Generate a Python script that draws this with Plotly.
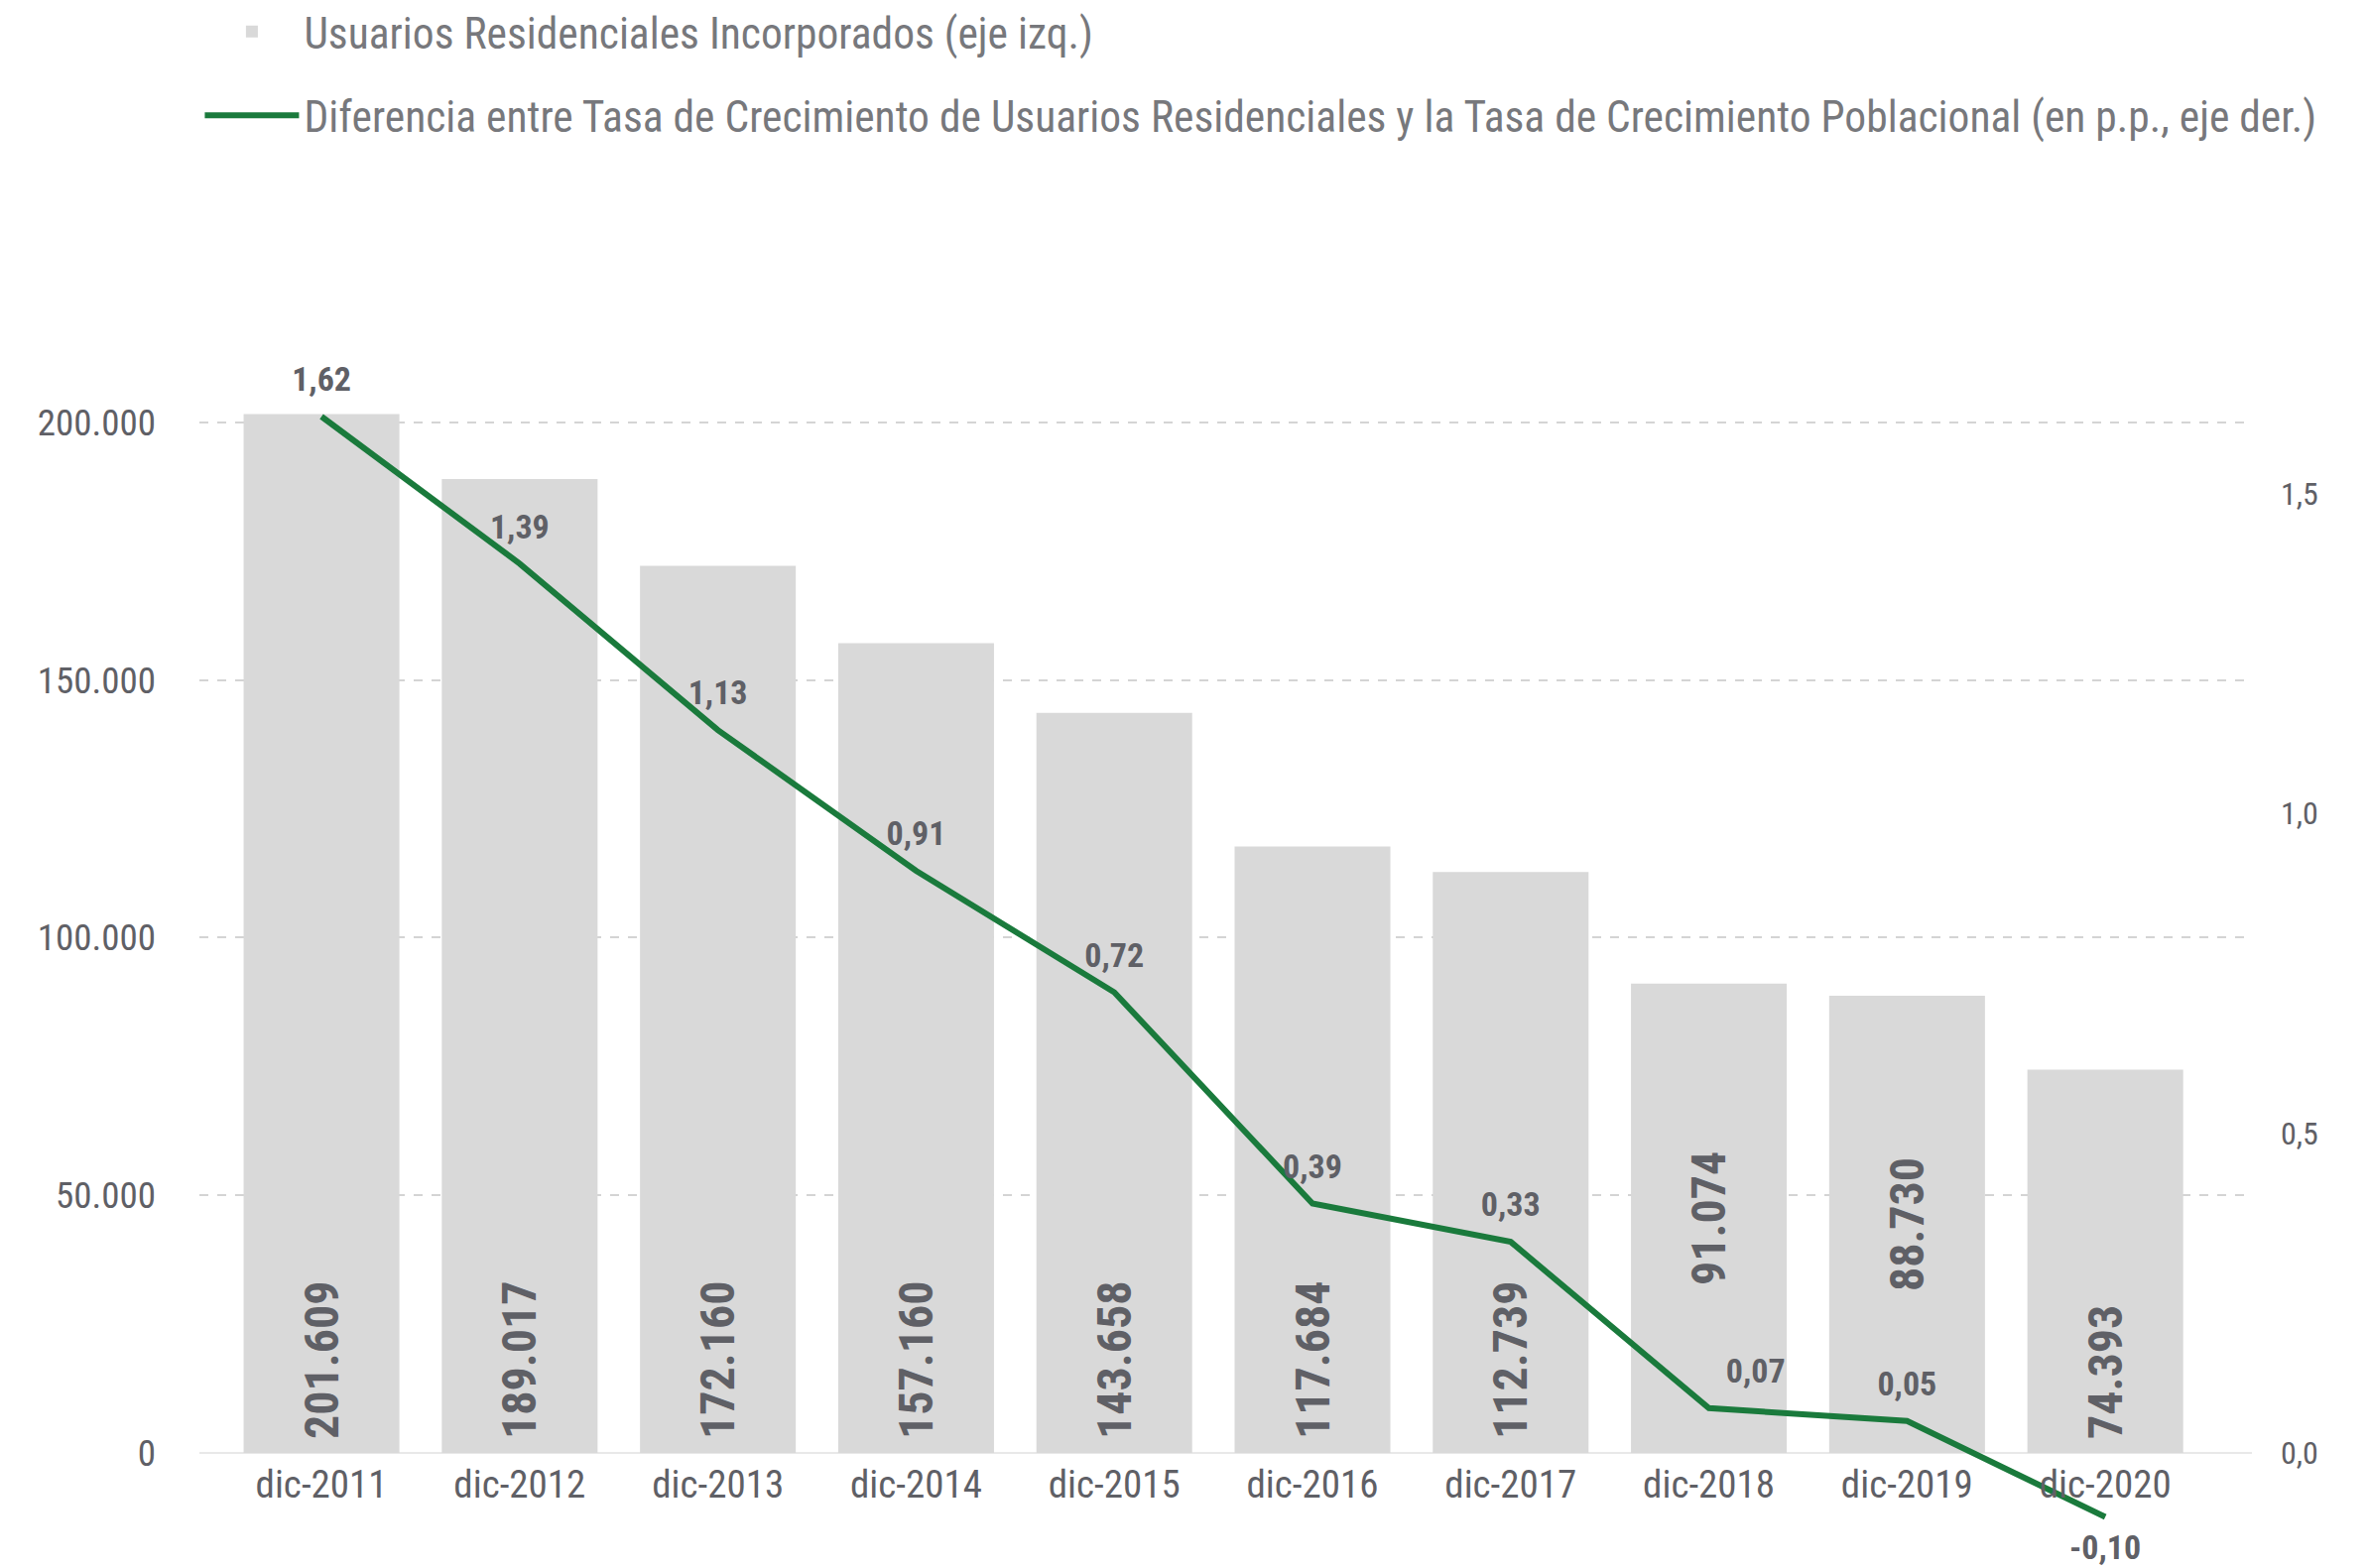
# Usuarios residenciales incorporados y diferencia de tasas de crecimiento, dic-2011 a dic-2020.

import plotly.graph_objects as go

# Categorías del eje x
periodos = ['dic-2011', 'dic-2012', 'dic-2013', 'dic-2014', 'dic-2015',
            'dic-2016', 'dic-2017', 'dic-2018', 'dic-2019', 'dic-2020']

# Usuarios residenciales incorporados (eje izq.)
usuarios = [201609, 189017, 172160, 157160, 143658,
            117684, 112739, 91074, 88730, 74393]

# Diferencia de tasas en p.p. (eje der.)
diferencia = [1.62, 1.39, 1.13, 0.91, 0.72, 0.39, 0.33, 0.07, 0.05, -0.10]

# Barras cuya etiqueta va centrada (para no chocar con la línea)
centradas = [7, 8]

# Posición de cada etiqueta de la línea
pos_etiquetas = ['top center'] * 7 + ['top right', 'top center', 'bottom center']

gris_texto = '#5f6066'
gris_barra = '#d9d9d9'
fuente = 'Roboto Condensed, Roboto, sans-serif'

# Rangos de ambos ejes, elegidos para que el cero coincida
rango_izq = [-15400, 205000]
rango_der = [-0.124, 1.651]
pos_cero = (0 - rango_izq[0]) / (rango_izq[1] - rango_izq[0])

nombre_barras = 'Usuarios Residenciales Incorporados (eje izq.)'
nombre_linea = ('Diferencia entre Tasa de Crecimiento de Usuarios Residenciales y la Tasa de '
                'Crecimiento Poblacional (en p.p., eje der.)')

fig = go.Figure()

# Barras con la etiqueta al pie y barras con la etiqueta centrada
for grupo, anclaje, texto, leyenda in [
        ([i for i in range(len(periodos)) if i not in centradas], 'start', '\u00a0%{y:,}', True),
        (centradas, 'middle', '%{y:,}', False)]:
    fig.add_trace(go.Bar(
        x=[periodos[i] for i in grupo], y=[usuarios[i] for i in grupo],
        name=nombre_barras, legendgroup='a', showlegend=leyenda,
        marker=dict(color=gris_barra, line=dict(width=0)),
        width=0.786,
        texttemplate=texto,
        textposition='inside',
        insidetextanchor=anclaje,
        textangle=-90,
        textfont=dict(size=48, color=gris_texto, family=fuente, weight='bold'),
        hoverinfo='skip',
    ))

# Línea de diferencia de tasas
fig.add_trace(go.Scatter(
    x=periodos, y=diferencia,
    name=nombre_linea,
    legendgroup='b',
    yaxis='y2',
    mode='lines+markers+text',
    line=dict(color='#1a7a3c', width=6),
    marker=dict(size=26, color='rgba(0,0,0,0)'),
    texttemplate='%{y:.2f}',
    textposition=pos_etiquetas,
    textfont=dict(size=34, color=gris_texto, family=fuente, weight='bold'),
    cliponaxis=False,
    hoverinfo='skip',
))

fig.update_layout(
    width=2388, height=1581,
    margin=dict(l=193, r=126, t=392, b=44, autoexpand=False),
    paper_bgcolor='white', plot_bgcolor='white',
    separators=',.',
    barmode='overlay',
    font=dict(family=fuente, color=gris_texto),
    showlegend=True,
    legend=dict(
        xref='container', yref='paper',
        x=0.081, y=1.352, xanchor='left', yanchor='top',
        orientation='v', traceorder='grouped',
        tracegroupgap=25, itemwidth=95,
        font=dict(size=43.5, color='#77787c', family=fuente),
    ),
    xaxis=dict(
        domain=[0, 1],
        anchor='free', position=pos_cero,
        categoryorder='array', categoryarray=periodos,
        range=[-0.616, 9.74],
        showgrid=False, showline=False, zeroline=False,
        ticks='', ticklabelstandoff=5, tickangle=0,
        tickfont=dict(size=39, color=gris_texto),
    ),
    yaxis=dict(
        domain=[0, 1],
        anchor='free', position=0,
        range=rango_izq,
        tickvals=[0, 50000, 100000, 150000, 200000],
        tickformat=',',
        showgrid=True, gridcolor='#d4d4d4', griddash='dash', gridwidth=1.5,
        zeroline=True, zerolinecolor='#e8e8e8', zerolinewidth=2,
        showline=False, ticks='', ticklabelstandoff=44,
        tickfont=dict(size=37, color=gris_texto),
    ),
    yaxis2=dict(
        overlaying='y', side='right',
        anchor='free', position=1,
        range=rango_der,
        tickvals=[0, 0.5, 1.0, 1.5],
        tickformat='.1f',
        showgrid=False, zeroline=False, showline=False,
        ticks='', ticklabelstandoff=28,
        tickfont=dict(size=32, color=gris_texto),
    ),
)

fig.write_html('out.html')
